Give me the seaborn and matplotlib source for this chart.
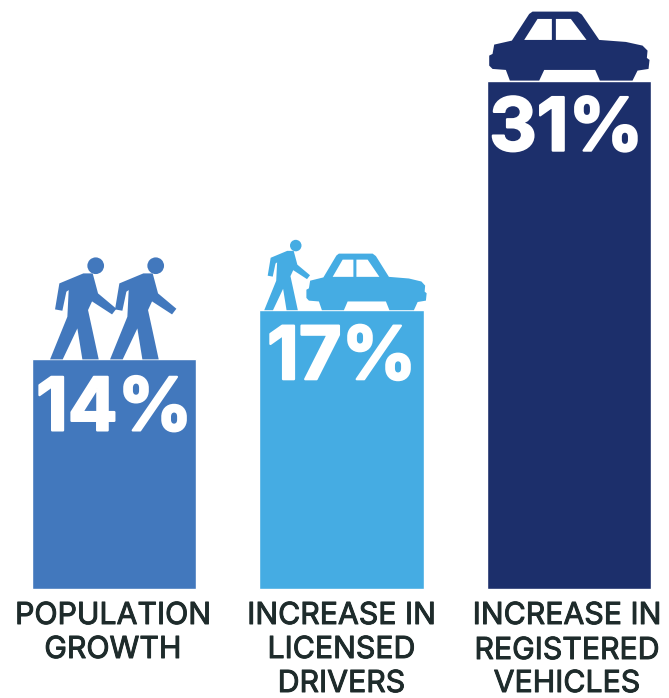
import numpy as np
import pandas as pd
import seaborn as sns
import matplotlib
matplotlib.use("Agg")
import matplotlib.pyplot as plt
import matplotlib.patheffects as pe
from matplotlib.path import Path
from matplotlib.patches import PathPatch, Circle
from matplotlib.transforms import Affine2D

categories = ["population", "drivers", "vehicles"]
percent = [14, 17, 31]
value_labels = ["14%", "17%", "31%"]
name_lines = [["POPULATION", "GROWTH"],
              ["INCREASE IN", "LICENSED", "DRIVERS"],
              ["INCREASE IN", "REGISTERED", "VEHICLES"]]
bar_colors = ["#4278BD", "#45ACE3", "#1C2F6B"]
text_color = "#1E2B2B"

# Pictogram outlines, drawn in a y-down design grid (3 units per pixel)
car_body = [(190, 33), (325, 33), (338, 42), (390, 118), (470, 124), (520, 135), (535, 150),
            (533, 172), (541, 178), (538, 205), (505, 210), (490, 240), (392, 240),
            (378, 208), (225, 208), (210, 240), (122, 240), (110, 208), (70, 205),
            (60, 195), (60, 165), (70, 160), (75, 132), (128, 120), (180, 40)]
car_window_a = [(165, 118), (205, 55), (248, 55), (248, 118)]
car_window_b = [(260, 118), (260, 55), (305, 55), (352, 118)]
walker_body = [(178, 160), (250, 130), (278, 130), (294, 190), (349, 236), (336, 253),
               (276, 214), (264, 240), (276, 295), (296, 388), (247, 388), (232, 295),
               (188, 388), (150, 388), (202, 260), (206, 180), (199, 185), (187, 242), (165, 238)]
walker_head = (287, 107, 25)

sns.set_theme(style="white")
fig = plt.figure(figsize=(6.69, 6.98), dpi=100, facecolor="white")
ax = fig.add_axes([0, 0, 1, 1])

table = pd.DataFrame({"category": categories, "percent": percent})
sns.barplot(data=table, x="category", y="percent", hue="category",
            palette=bar_colors, width=0.723, saturation=1, legend=False, ax=ax)

# One category step is 227.5 px and one percentage point is 16.4 px
ax.set_xlim((0 - 114.2) / 227.5, (669 - 114.2) / 227.5)
ax.set_ylim(-(698 - 589) / 16.4, 589 / 16.4)
ax.set_axis_off()
ax.autoscale(False)


def place(bar, scale_x, scale_y, origin, shift):
    """Transform from design grid to display, anchored on the top of a bar."""
    anchor = ax.transData.transform((bar, percent[bar]))
    return (Affine2D().translate(-origin[0], -origin[1]).scale(scale_x / 3, -scale_y / 3)
            .translate(anchor[0] + shift[0], anchor[1] + shift[1]))


def draw_walker(bar, scale, shift, color):
    tr = place(bar, scale, scale, (152, 388), shift)
    ax.add_patch(PathPatch(Path(walker_body + walker_body[:1], closed=True),
                           facecolor=color, edgecolor="none", transform=tr, clip_on=False))
    hx, hy, hr = walker_head
    ax.add_patch(Circle((hx, hy), hr, facecolor=color, edgecolor="none",
                        transform=tr, clip_on=False))


def draw_car(bar, scale_x, scale_y, shift, color):
    tr = place(bar, scale_x, scale_y, (300, 240), shift)
    rings = [Path(r + r[:1], closed=True) for r in (car_body, car_window_a[::-1], car_window_b[::-1])]
    ax.add_patch(PathPatch(Path.make_compound_path(*rings), facecolor=color,
                           edgecolor="none", transform=tr, clip_on=False))


draw_walker(0, 1.0, (-63.5, 0), bar_colors[0])
draw_walker(0, 1.0, (-3.5, 0), bar_colors[0])
draw_walker(1, 0.69, (-77, 0), bar_colors[1])
draw_car(1, 0.75, 0.82, (24.7, 0), bar_colors[1])
draw_car(2, 1.0, 1.0, (0, 0), bar_colors[2])

# Big percentage figures sit just under each bar top
value_shift = [(0, -44), (0, -42), (-3, -43)]
for i, label in enumerate(value_labels):
    ax.annotate(label, xy=(i, percent[i]), xytext=(value_shift[i][0] * 0.72, value_shift[i][1] * 0.72),
                textcoords="offset points", ha="center", va="center_baseline", color="white",
                fontsize=53, fontweight="bold", family="Inter",
                path_effects=[pe.withStroke(linewidth=1.6, foreground="white")])

# Category names below the baseline, one line at a time
name_rows = [[-24, -58], [-24, -58, -92], [-24, -59, -92]]
name_shift = [-1.5, -0.5, -2.5]
for i, lines in enumerate(name_lines):
    for line, dy in zip(lines, name_rows[i]):
        ax.annotate(line, xy=(i, 0), xytext=(name_shift[i] * 0.72, dy * 0.72), textcoords="offset points",
                    ha="center", va="center_baseline", color=text_color,
                    fontsize=21.8, family="Inter",
                    path_effects=[pe.withStroke(linewidth=0.7, foreground=text_color)])

fig.savefig("out.png", dpi=100, facecolor="white")
